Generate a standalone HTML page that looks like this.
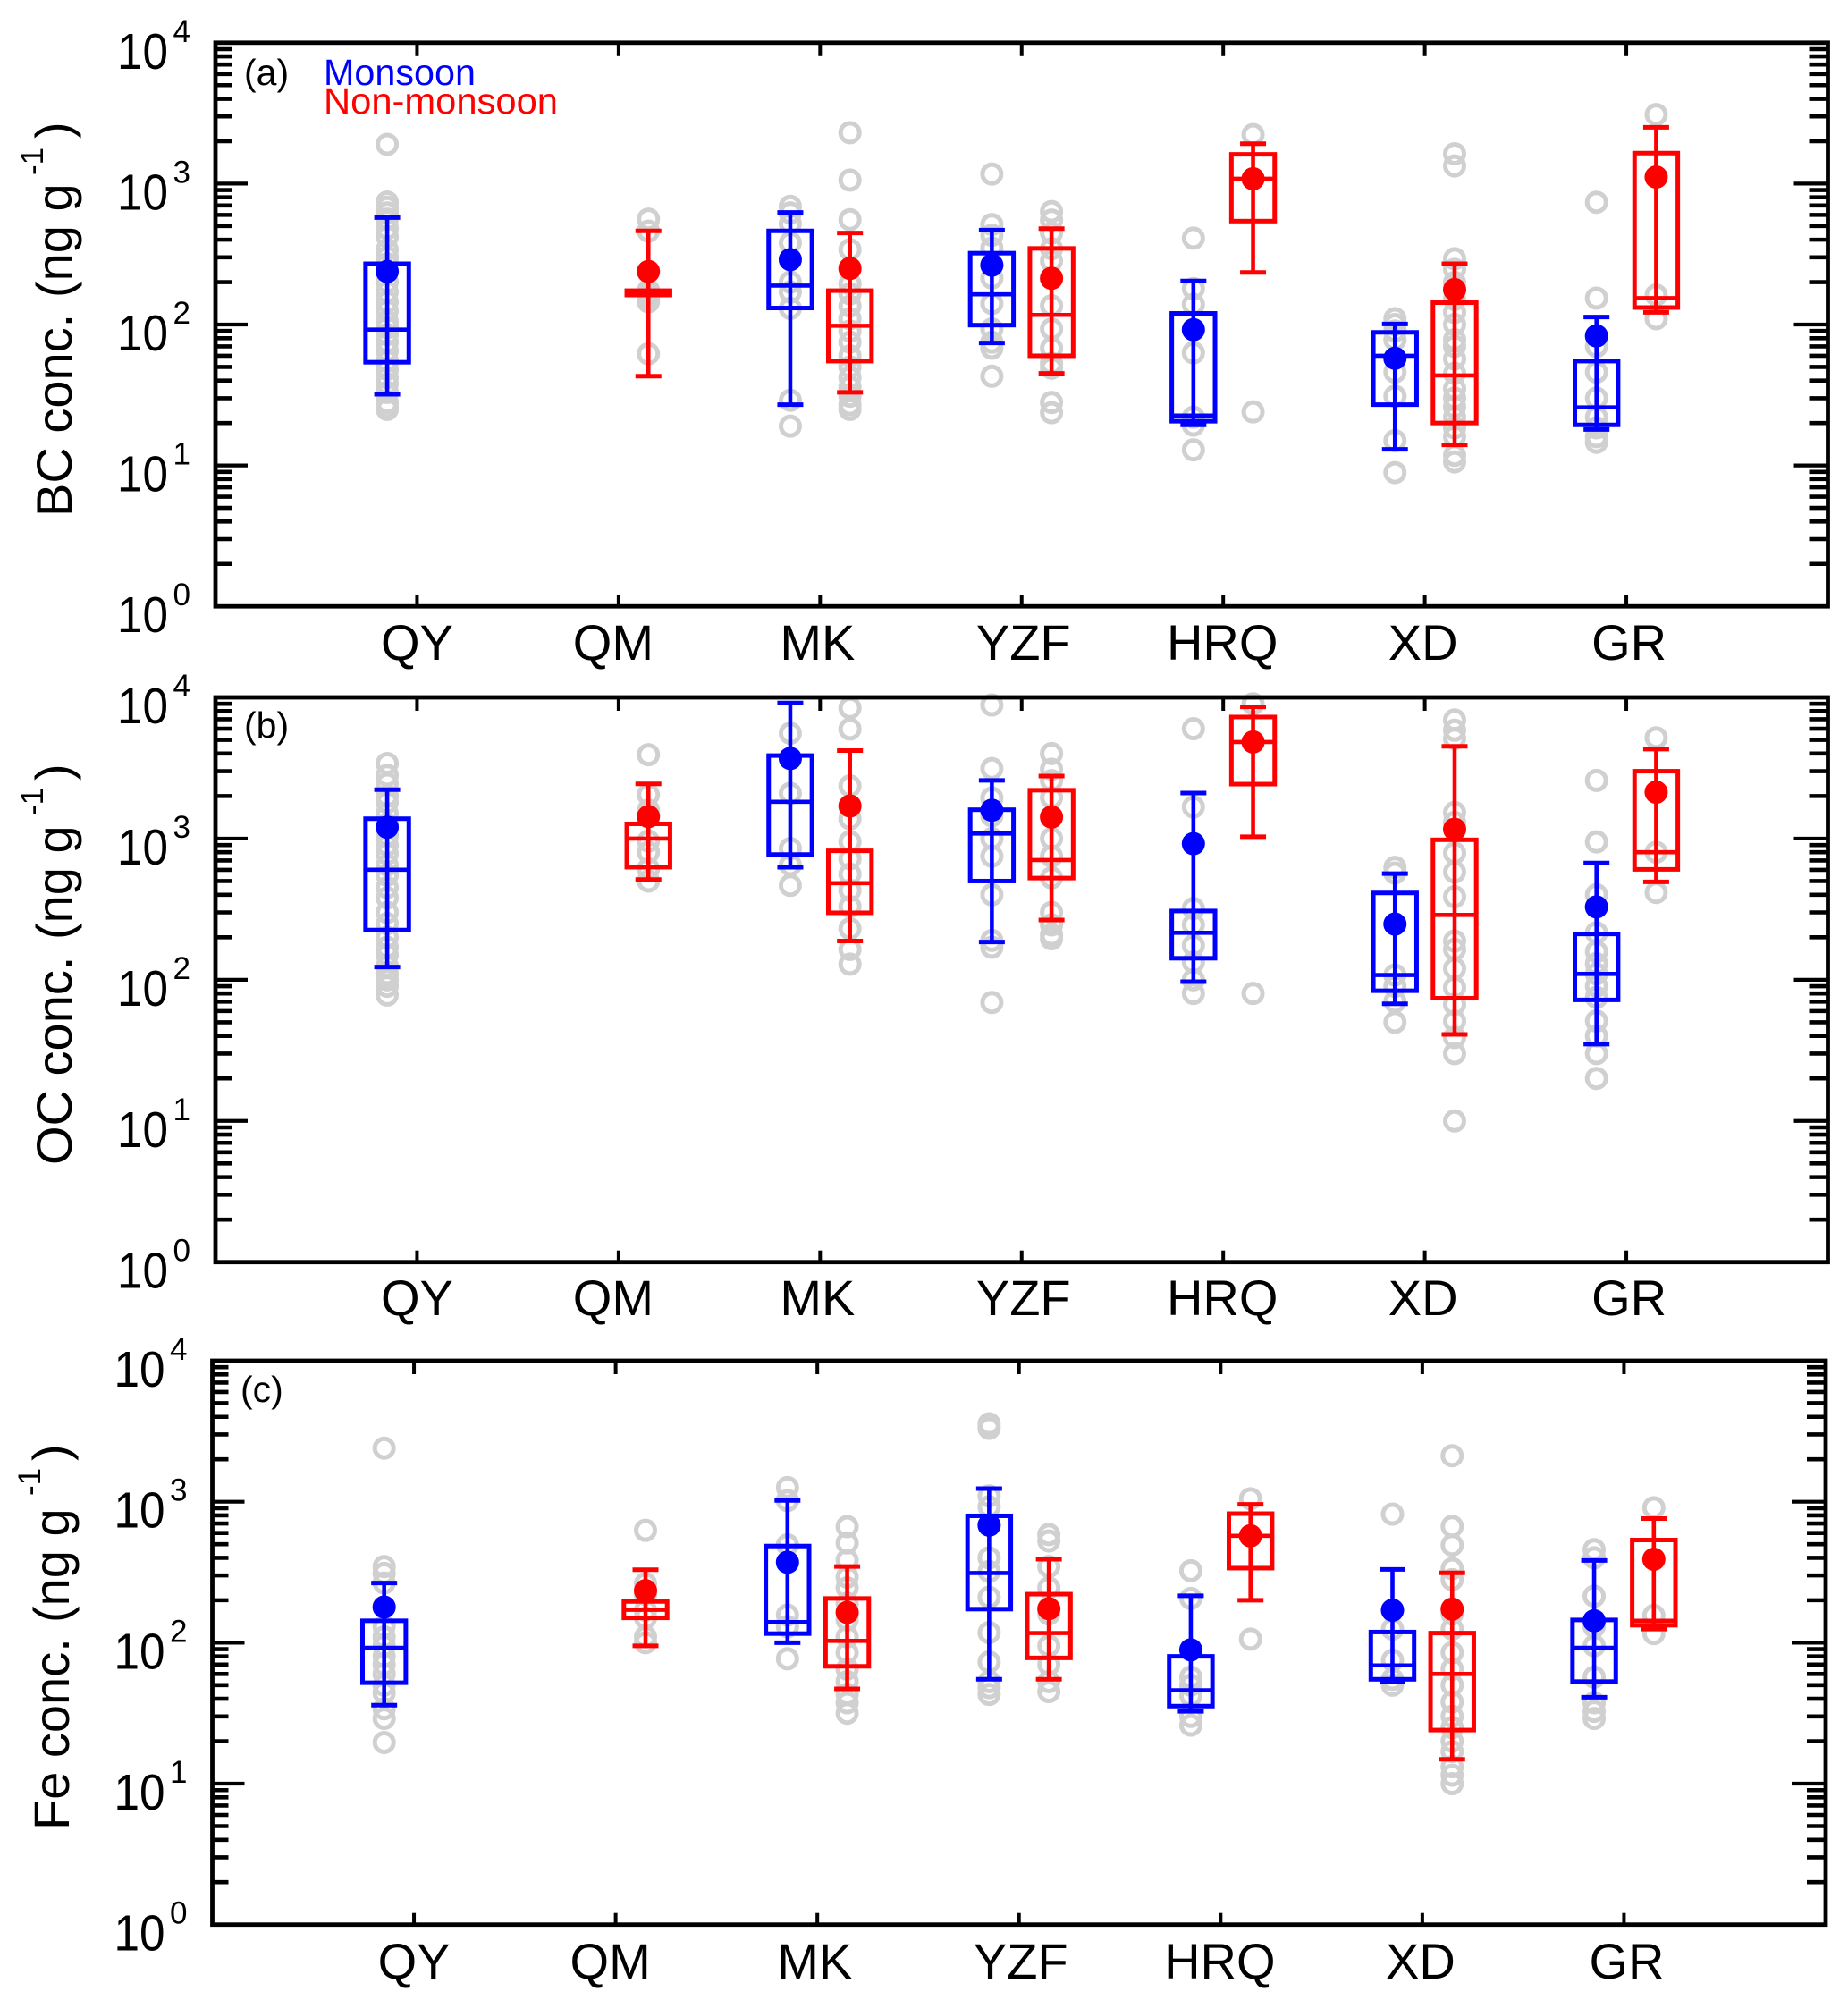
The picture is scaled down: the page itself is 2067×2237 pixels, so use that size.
<!DOCTYPE html>
<html lang="en">
<head>
<meta charset="utf-8">
<title>BC, OC and Fe concentrations</title>
<style>
html,body{margin:0;padding:0;background:#fff;}
svg{display:block;}
text{font-family:"Liberation Sans",Arial,sans-serif;fill:#000;}
</style>
</head>
<body>
<svg id="chart" width="2067" height="2237" viewBox="0 0 2067 2237" xmlns="http://www.w3.org/2000/svg">
  <rect x="0" y="0" width="2067" height="2237" fill="#fff"/>

  <g>
    <text transform="translate(80,578) rotate(-90)" font-size="56">BC conc.</text>
    <text transform="translate(80,333) rotate(-90)" font-size="56">(ng g</text>
    <text transform="translate(48,196) rotate(-90)" font-size="35">-1</text>
    <text transform="translate(79,155) rotate(-90)" font-size="56">)</text>
  </g>
  <g>
    <text transform="translate(80,1303) rotate(-90)" font-size="56">OC conc.</text>
    <text transform="translate(80,1051) rotate(-90)" font-size="56">(ng g</text>
    <text transform="translate(48,912) rotate(-90)" font-size="35">-1</text>
    <text transform="translate(79,873) rotate(-90)" font-size="56">)</text>
  </g>
  <g>
    <text transform="translate(77,2047) rotate(-90)" font-size="56">Fe conc.</text>
    <text transform="translate(77,1815) rotate(-90)" font-size="56">(ng g</text>
    <text transform="translate(45,1673) rotate(-90)" font-size="35">-1</text>
    <text transform="translate(76,1634) rotate(-90)" font-size="56">)</text>
  </g>

  <text x="273" y="95" font-size="41">(a)</text>
  <text x="273" y="825" font-size="41">(b)</text>
  <text x="269" y="1568" font-size="41">(c)</text>
  <g>
    <text x="362" y="95" font-size="40.5" style="fill:#0000ff" textLength="170" lengthAdjust="spacingAndGlyphs">Monsoon</text>
    <text x="362" y="127" font-size="40.5" style="fill:#ff0000" textLength="262" lengthAdjust="spacingAndGlyphs">Non-monsoon</text>
  </g>
</svg>
<script>
const categories = ['QY','QM','MK','YZF','HRQ','XD','GR'];
const decadeExponents = [0,1,2,3,4];
const minorMultipliers = [2,3,4,5,6,7,8,9];

const bcMonsoonHigh = [574,null,624,468,204,101,113];
const bcMonsoonQ3 = [270,null,462,321,120,88,55];
const bcMonsoonMedian = [92,null,189,164,22.6,60,25.8];
const bcMonsoonQ1 = [54,null,131,99,20.6,27,19.4];
const bcMonsoonLow = [32,null,27,74,19.4,13,18];
const bcMonsoonMean = [238,null,289,264,92,57.6,83];
const bcMonsoonPoints = [
  [1900,740,680,620,560,480,420,340,300,270,240,200,170,145,125,105,95,85,75,65,55,48,42,38,33,28,26,25],
  [],
  [690,620,520,380,200,170,130,29,19],
  [1170,513,430,349,214,141,93,75,68,43],
  [410,180,139,63,22,19.3,12.9],
  [110,100,90,78,46,31,15,8.9],
  [738,154,70,46,30,22,18.5,16,14.6]
];
const bcNonMonsoonHigh = [null,462,446,479,1920,270,2510];
const bcNonMonsoonQ3 = [null,174,174,347,1614,143,1647];
const bcNonMonsoonMedian = [null,168,98,117,1083,43.5,154];
const bcNonMonsoonQ1 = [null,162,55,60,542,20,132];
const bcNonMonsoonLow = [null,43,33,45,234,14,122];
const bcNonMonsoonMean = [null,238,250,213,1083,177,1114];
const bcNonMonsoonPoints = [
  [],
  [560,460,175,165,155,145,62],
  [2300,1060,555,340,195,165,135,110,90,75,60,50,42,36,31,27,25],
  [634,552,446,345,283,136,93,68,53,49,28,23.7],
  [2230,24],
  [1630,1336,293,246,199,151,122,100,78,70,57,45,35,30,26,22,18.5,16,11.8,10.6],
  [3090,162,110]
];

const ocMonsoonHigh = [2220,null,9130,2582,2100,565,671];
const ocMonsoonQ3 = [1382,null,3870,1600,307,412,211];
const ocMonsoonMedian = [601,null,1820,1086,215,108,110];
const ocMonsoonQ1 = [225,null,771,500,142,83.6,72];
const ocMonsoonLow = [123,null,627,185,97,67.6,35];
const ocMonsoonMean = [1204,null,3690,1586,920,248,328];
const ocMonsoonPoints = [
  [3400,2800,2450,2000,1800,1500,1250,1050,900,780,650,550,450,380,300,250,200,170,150,125,110,100,90,78],
  [],
  [5570,2090,850,650,466],
  [8830,3130,1940,1450,1000,750,400,190,170,69],
  [6000,1675,320,245,175,133,100,80],
  [625,570,108,90,70,50],
  [2580,947,400,215,158,130,110,90,75,51,40,30,20]
];
const ocNonMonsoonHigh = [null,2440,4200,2770,8570,4500,4300];
const ocNonMonsoonQ3 = [null,1271,819,2200,7260,980,3000];
const ocNonMonsoonMedian = [null,1000,483,705,4830,288,800];
const ocNonMonsoonQ1 = [null,627,298,525,2430,74,605];
const ocNonMonsoonLow = [null,513,188,265,1030,41,493];
const ocNonMonsoonMean = [null,1430,1700,1420,4830,1163,2130];
const ocNonMonsoonPoints = [
  [],
  [3926,2044,1590,960,800,610,500],
  [8420,5970,2360,1380,950,720,560,430,330,230,164,129],
  [4000,3100,2570,1950,1000,750,527,300,245,208,195],
  [9000,80],
  [6920,5850,5100,1530,1300,790,580,387,188,164,120,88,67,51,39,30,10],
  [5170,800,415]
];

const feMonsoonHigh = [265,null,1021,1240,215,331,383];
const feMonsoonQ3 = [143,null,485,794,80,119,145];
const feMonsoonMedian = [92,null,140,312,46,69,92];
const feMonsoonQ1 = [52,null,116,173,35.5,55,53];
const feMonsoonLow = [36,null,100,55,32.6,53,41];
const feMonsoonMean = [179,null,372,682,89,170,143];
const feMonsoonPoints = [
  [2400,347,310,265,130,110,95,80,70,60,50,44,34,29,19.6],
  [],
  [1260,1020,495,157,130,77],
  [3570,3320,1100,920,400,320,210,118,73,53,48,43],
  [324,206,57,50,42,30,26],
  [817,125,75,55,50],
  [457,400,214,130,95,57,37.5,32.6,29]
];
const feNonMonsoonHigh = [null,329,347,391,957,313,760];
const feNonMonsoonQ3 = [null,196,206,221,823,117,535];
const feNonMonsoonMedian = [null,171,103,117,573,60,143];
const feNonMonsoonQ1 = [null,150,68,78,338,24,133];
const feNonMonsoonLow = [null,95,47,55,200,14.9,125];
const feNonMonsoonMean = [null,234,164,174,573,173,391];
const feNonMonsoonPoints = [
  [],
  [627,263,220,170,150,110,100],
  [666,510,385,292,245,190,145,110,85,65,53,43,37.5,31.6],
  [585,527,347,245,160,95,70,53,45],
  [1050,106],
  [2120,668,492,335,280,160,125,85,65,50,38,30,25,20,16.9,13.2,11.5,10],
  [907,156,116]
];

const svg = document.getElementById('chart');
const NS = 'http://www.w3.org/2000/svg';
const BLUE = '#0000ff', RED = '#ff0000', GRAY = '#d0d0d0';
const MONSOON_OFFSET = -0.148, NON_MONSOON_OFFSET = 0.148;
const labelNudge = {QM:-6, MK:-3, YZF:2, HRQ:-1, XD:-2, GR:3};

function make(tag, parent, attrs, content){
  const node = document.createElementNS(NS, tag);
  for (const k in attrs) node.setAttribute(k, attrs[k]);
  if (content !== undefined) node.textContent = content;
  parent.appendChild(node);
  return node;
}
function drawLine(parent, x1, y1, x2, y2, color, width){
  return make('line', parent, {x1:x1, y1:y1, x2:x2, y2:y2, stroke:color, 'stroke-width':width});
}

function drawSeries(g, panel, season, color, offset, s){
  const x = panel.xScale, y = panel.yScale;
  categories.forEach(function(cat, i){
    const cx = x(i + 1 + offset);
    const pts = make('g', g, {});
    
    
    s.points[i].forEach(function(v){
      const c = make('circle', pts, {cx:cx, cy:y(v), r:10.5, fill:'none', stroke:GRAY, 'stroke-width':5});
      
      
    });
  });
  categories.forEach(function(cat, i){
    if (s.high[i] === null) return;
    const cx = x(i + 1 + offset);
    const b = make('g', g, {});
    
    
    const stem = drawLine(b, cx, y(s.high[i]), cx, y(s.low[i]), color, 4.6);
    
    
    const capHigh = drawLine(b, cx - 14.5, y(s.high[i]), cx + 14.5, y(s.high[i]), color, 5);
    
    
    const capLow = drawLine(b, cx - 14.5, y(s.low[i]), cx + 14.5, y(s.low[i]), color, 5);
    
    
    const rect = make('rect', b, {x:cx - 24.2, y:y(s.q3[i]), width:48.4, height:y(s.q1[i]) - y(s.q3[i]), fill:'none', stroke:color, 'stroke-width':5});
    
    
    const med = drawLine(b, cx - 24.2, y(s.median[i]), cx + 24.2, y(s.median[i]), color, 4.6);
    
    
    const mean = make('circle', b, {cx:cx, cy:y(s.mean[i]), r:13, fill:color});
    
    
  });
}

function drawPanel(panel){
  const L = panel.left, R = panel.right, T = panel.top, B = panel.bottom;
  panel.xScale = function(v){ return L + (R - L) * v / 8; };
  panel.yScale = function(v){ return B - (B - T) * Math.log10(v) / 4; };
  const g = make('g', svg, {});
  
  
  drawSeries(g, panel, 'monsoon', BLUE, MONSOON_OFFSET, panel.monsoon);
  drawSeries(g, panel, 'non-monsoon', RED, NON_MONSOON_OFFSET, panel.nonMonsoon);

  const axes = make('g', g, {});
  
  
  decadeExponents.forEach(function(e){
    const yy = panel.yScale(Math.pow(10, e));
    if (e > 0 && e < 4) {
      const l = drawLine(axes, L, yy, L + 36, yy, '#000', 4.2);
      
      
      const r = drawLine(axes, R - 38, yy, R, yy, '#000', 4.2);
      
      
    }
    const num = make('text', axes, {x:L - 110, y:yy + 29, 'font-size':57, textLength:57, lengthAdjust:'spacingAndGlyphs'}, '10');
    
    
    const sup = make('text', axes, {x:L - 47.5, y:yy - 1, 'font-size':35}, String(e));
    
    
    if (e < 4) minorMultipliers.forEach(function(m){
      const ym = panel.yScale(m * Math.pow(10, e));
      const a = drawLine(axes, L, ym, L + 18, ym, '#000', 4.6);
      
      
      const b = drawLine(axes, R - 21, ym, R, ym, '#000', 4.6);
      
      
    });
  });
  categories.forEach(function(cat, i){
    const xx = panel.xScale(i + 1);
    const t = drawLine(axes, xx, T, xx, T + 15, '#000', 4);
    
    
    const b = drawLine(axes, xx, B, xx, B - 13, '#000', 4);
    
    
    const label = make('text', axes, {x:xx + (labelNudge[cat] || 0), y:panel.labelBase, 'font-size':56, 'text-anchor':'middle'}, cat);
    
    
  });
  const frame = make('rect', axes, {x:L, y:T, width:R - L, height:B - T, fill:'none', stroke:'#000', 'stroke-width':4.8});
  
  
}

drawPanel({key:'bc', left:241, right:2044.5, top:47.8, bottom:678.2, labelBase:738,
  monsoon:{high:bcMonsoonHigh,q3:bcMonsoonQ3,median:bcMonsoonMedian,q1:bcMonsoonQ1,low:bcMonsoonLow,mean:bcMonsoonMean,points:bcMonsoonPoints},
  nonMonsoon:{high:bcNonMonsoonHigh,q3:bcNonMonsoonQ3,median:bcNonMonsoonMedian,q1:bcNonMonsoonQ1,low:bcNonMonsoonLow,mean:bcNonMonsoonMean,points:bcNonMonsoonPoints}});
drawPanel({key:'oc', left:241, right:2044.5, top:780, bottom:1411.7, labelBase:1471,
  monsoon:{high:ocMonsoonHigh,q3:ocMonsoonQ3,median:ocMonsoonMedian,q1:ocMonsoonQ1,low:ocMonsoonLow,mean:ocMonsoonMean,points:ocMonsoonPoints},
  nonMonsoon:{high:ocNonMonsoonHigh,q3:ocNonMonsoonQ3,median:ocNonMonsoonMedian,q1:ocNonMonsoonQ1,low:ocNonMonsoonLow,mean:ocNonMonsoonMean,points:ocNonMonsoonPoints}});
drawPanel({key:'fe', left:237.5, right:2042, top:1522, bottom:2152.7, labelBase:2213,
  monsoon:{high:feMonsoonHigh,q3:feMonsoonQ3,median:feMonsoonMedian,q1:feMonsoonQ1,low:feMonsoonLow,mean:feMonsoonMean,points:feMonsoonPoints},
  nonMonsoon:{high:feNonMonsoonHigh,q3:feNonMonsoonQ3,median:feNonMonsoonMedian,q1:feNonMonsoonQ1,low:feNonMonsoonLow,mean:feNonMonsoonMean,points:feNonMonsoonPoints}});
</script>
</body>
</html>
